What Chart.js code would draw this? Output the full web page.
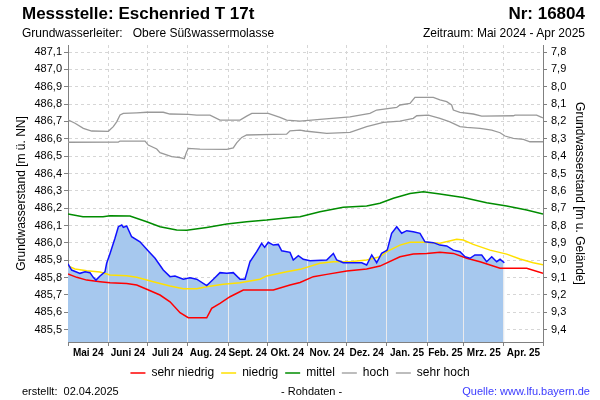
<!DOCTYPE html>
<html><head><meta charset="utf-8">
<script src="https://cdn.jsdelivr.net/npm/chart.js@4/dist/chart.umd.min.js"></script>
<style>
html,body{margin:0;padding:0;background:#fff;}
#wrap{position:relative;width:600px;height:400px;font-family:"Liberation Sans",Arial,sans-serif;color:#000;overflow:hidden;}
#c{position:absolute;left:0;top:0;}
.t{position:absolute;white-space:pre;line-height:1;}
</style></head><body>
<div id="wrap">
<canvas id="c" width="600" height="400"></canvas>
<div class="t" style="left:22px;top:5px;font-size:17px;font-weight:bold;">Messstelle: Eschenried T 17t</div>
<div class="t" style="right:15px;top:5px;font-size:17px;font-weight:bold;">Nr: 16804</div>
<div class="t" style="left:22px;top:27px;font-size:12px;">Grundwasserleiter:   Obere Süßwassermolasse</div>
<div class="t" style="right:15px;top:27px;font-size:12px;">Zeitraum: Mai 2024 - Apr 2025</div>
<div class="t" style="left:22px;top:386px;font-size:11px;">erstellt:  02.04.2025</div>
<div class="t" style="left:281px;top:386px;font-size:11px;">- Rohdaten -</div>
<div class="t" style="right:10px;top:386px;font-size:11px;color:#3b3bff;">Quelle: www.lfu.bayern.de</div>
</div>
<script>
// ---- data (days since 01.05.2024, water level in m ü. NN) ----
const monthStarts = [0, 31, 61, 92, 123, 153, 184, 214, 245, 276, 304, 335, 365];
const monthLabels = ['Mai 24', 'Juni 24', 'Juli 24', 'Aug. 24', 'Sept. 24', 'Okt. 24', 'Nov. 24', 'Dez. 24', 'Jan. 25', 'Feb. 25', 'Mrz. 25', 'Apr. 25'];
const leftTicks = [485.5, 485.6, 485.7, 485.8, 485.9, 486.0, 486.1, 486.2, 486.3, 486.4, 486.5, 486.6, 486.7, 486.8, 486.9, 487.0, 487.1];
const rightTicks = [7.8, 7.9, 8.0, 8.1, 8.2, 8.3, 8.4, 8.5, 8.6, 8.7, 8.8, 8.9, 9.0, 9.1, 9.2, 9.3, 9.4];
const gelaendeHoehe = 494.9;
const levelMin = 485.428, levelMax = 487.141;

const messDays = [0, 2.8, 9.2, 13.1, 16.9, 19.4, 21.5, 24.6, 28.4, 29.7, 32.3, 36.1, 38.7, 41.3, 42.5, 45.1, 48.9, 55.3, 61.7, 66.9, 73.2, 78.4, 82.2, 88.6, 93.7, 98.9, 106.6, 111.7, 116.8, 122, 127, 132.2, 136, 139.8, 145, 148.8, 151.1, 153.9, 157.8, 161.6, 164.2, 170.6, 173.1, 177, 180.8, 186, 198.8, 203.9, 206.5, 211.5, 225.7, 229.5, 233.4, 237.2, 241, 245.3, 248.7, 252.6, 256.4, 260.3, 265.3, 270.5, 274.3, 280.7, 285.8, 291, 296.1, 301.2, 305.1, 308.9, 312.7, 317.9, 321.7, 325.6, 329.4, 332, 335.3];
const messValues = [485.878, 485.843, 485.824, 485.833, 485.828, 485.801, 485.785, 485.809, 485.833, 485.882, 485.939, 486.026, 486.093, 486.103, 486.089, 486.097, 486.035, 486.006, 485.953, 485.911, 485.843, 485.805, 485.809, 485.79, 485.799, 485.79, 485.753, 485.79, 485.828, 485.824, 485.828, 485.79, 485.79, 485.891, 485.949, 485.997, 485.974, 486.003, 485.987, 485.991, 485.954, 485.945, 485.901, 485.926, 485.905, 485.897, 485.901, 485.939, 485.901, 485.885, 485.885, 485.872, 485.93, 485.885, 485.939, 485.958, 486.055, 486.093, 486.055, 486.07, 486.064, 486.055, 486.006, 486.001, 485.987, 485.982, 485.958, 485.949, 485.92, 485.911, 485.93, 485.93, 485.891, 485.92, 485.891, 485.905, 485.885];

const sehrNiedrigDays = [0, 6.7, 14.4, 24.6, 32.3, 45.1, 52.8, 60.5, 70.7, 78.4, 86.1, 92.4, 106.6, 110.4, 116.8, 124.5, 134.7, 157.8, 170.6, 178.3, 188.5, 198.8, 214.2, 229.5, 239.7, 255.1, 265.3, 275.6, 285.8, 296.1, 306.4, 316.6, 332, 352.5, 365];
const sehrNiedrigValues = [485.82, 485.801, 485.785, 485.776, 485.77, 485.766, 485.757, 485.732, 485.699, 485.66, 485.597, 485.568, 485.568, 485.622, 485.651, 485.689, 485.728, 485.728, 485.757, 485.771, 485.805, 485.818, 485.837, 485.849, 485.866, 485.92, 485.935, 485.939, 485.945, 485.939, 485.911, 485.891, 485.853, 485.853, 485.824];

const niedrigDays = [0, 5.4, 14.4, 24.6, 32.3, 45.1, 52.8, 65.5, 78.4, 88.6, 98.9, 106.6, 119.3, 132.2, 147.5, 152.7, 168, 178.3, 193.6, 203.9, 216.7, 229.5, 239.7, 244.9, 255.1, 262.8, 273, 285.8, 298.7, 303.7, 311.4, 324.3, 337.1, 347.3, 357.5, 365];
const niedrigValues = [485.866, 485.849, 485.839, 485.832, 485.814, 485.81, 485.801, 485.776, 485.751, 485.735, 485.735, 485.747, 485.761, 485.77, 485.79, 485.809, 485.833, 485.847, 485.882, 485.891, 485.891, 485.901, 485.92, 485.949, 485.987, 486.003, 486.003, 485.997, 486.02, 486.016, 485.991, 485.958, 485.935, 485.907, 485.885, 485.874];

const mittelDays = [0, 11.5, 26.9, 32.3, 47.6, 60.5, 70.7, 83.5, 91.2, 106.6, 122, 137.3, 152.7, 172.9, 178.3, 193.6, 211.5, 229.5, 239.7, 250, 262.8, 273, 285.8, 303.7, 321.7, 337.1, 352.5, 365];
const mittelValues = [486.166, 486.151, 486.151, 486.156, 486.155, 486.122, 486.093, 486.074, 486.072, 486.089, 486.108, 486.122, 486.131, 486.147, 486.151, 486.179, 486.205, 486.212, 486.228, 486.257, 486.285, 486.295, 486.281, 486.262, 486.231, 486.212, 486.189, 486.166];

const hochDays = [0, 38.7, 40, 59.2, 61.7, 68.2, 70.7, 79.7, 86.1, 89.4, 90.7, 92.4, 101.4, 122, 127, 129.6, 133.5, 137.3, 157.8, 168, 170.6, 178.3, 182.1, 198.8, 216.7, 229.5, 242.3, 255.1, 265.3, 268, 276.9, 285.8, 293.5, 301.2, 306.4, 316.6, 325.6, 332, 335.8, 342.2, 349.9, 355, 365];
const hochValues = [486.58, 486.581, 486.587, 486.587, 486.564, 486.541, 486.52, 486.497, 486.491, 486.485, 486.516, 486.545, 486.541, 486.539, 486.548, 486.577, 486.608, 486.622, 486.626, 486.627, 486.646, 486.65, 486.645, 486.631, 486.637, 486.67, 486.695, 486.702, 486.718, 486.733, 486.737, 486.718, 486.698, 486.67, 486.666, 486.66, 486.65, 486.635, 486.616, 486.603, 486.597, 486.583, 486.583];

const sehrHochDays = [0, 5.4, 11.8, 18.2, 31, 34.8, 37.4, 40, 42.5, 52.8, 60.5, 73.2, 78.4, 92.4, 98.9, 109.1, 116.8, 132.2, 137.3, 141.2, 153.9, 162.9, 168, 178.3, 193.6, 216.7, 232, 237.2, 252.6, 255.1, 262.8, 266.6, 280.7, 285.8, 291, 294.8, 296.1, 301.2, 311.4, 317.9, 342.2, 343.5, 360.1, 364, 365];
const sehrHochValues = [486.71, 486.69, 486.66, 486.645, 486.643, 486.67, 486.698, 486.737, 486.747, 486.75, 486.753, 486.753, 486.743, 486.741, 486.737, 486.737, 486.708, 486.708, 486.731, 486.747, 486.747, 486.724, 486.708, 486.702, 486.712, 486.727, 486.747, 486.766, 486.781, 486.795, 486.804, 486.839, 486.839, 486.824, 486.814, 486.795, 486.766, 486.753, 486.743, 486.731, 486.733, 486.737, 486.737, 486.724, 486.72];

// ---- helpers ----
const pts = (xs, ys) => xs.map((x, i) => ({x: x, y: ys[i]}));
const monthMids = monthStarts.slice(0, -1).map((d, i) => (d + monthStarts[i + 1]) / 2);
const isStart = v => monthStarts.some(d => Math.abs(d - v) < 1e-6);
const midIndex = v => monthMids.findIndex(d => Math.abs(d - v) < 1e-6);
const comma = v => Number(v).toFixed(1).replace('.', ',');
function interp(xs, ys, x) {
  for (let i = 1; i < xs.length; i++) {
    if (x <= xs[i]) { const t = (x - xs[i - 1]) / (xs[i] - xs[i - 1]); return ys[i - 1] + t * (ys[i] - ys[i - 1]); }
  }
  return null;
}
const axisGrey = '#808080';
const gridGrey = '#d6d6d6';
const FONT = '"Liberation Sans", Arial, sans-serif';
Chart.defaults.font.family = FONT;
Chart.defaults.color = '#000';

// light vertical month lines drawn over the filled area
const fillGrid = {
  id: 'fillGrid',
  afterDatasetDraw(chart, args) {
    if (args.index !== 0) return;
    const {ctx, chartArea, scales} = chart;
    const x = scales.x, y = scales.y;
    const last = messDays[messDays.length - 1];
    ctx.save();
    ctx.strokeStyle = 'rgba(236,236,236,0.95)';
    ctx.lineWidth = 1;
    monthStarts.forEach(d => {
      if (d <= 0 || d > last) return;
      const v = interp(messDays, messValues, d);
      const px = Math.round(x.getPixelForValue(d) - 0.5) + 0.5;
      ctx.beginPath();
      ctx.moveTo(px, y.getPixelForValue(v) + 1);
      ctx.lineTo(px, chartArea.bottom);
      ctx.stroke();
    });
    ctx.restore();
  }
};

const lineDs = (label, xs, ys, color, w) => ({
  label: label, data: pts(xs, ys), borderColor: color, backgroundColor: color,
  borderWidth: w, pointRadius: 0, tension: 0, fill: false, order: 5
});

new Chart(document.getElementById('c'), {
  type: 'line',
  data: {
    datasets: [
      {label: 'Messwerte Fläche', data: pts(messDays, messValues), borderColor: 'rgba(0,0,0,0)', borderWidth: 0,
       backgroundColor: '#a6c8ee', fill: 'start', pointRadius: 0, tension: 0, order: 10},
      lineDs('sehr niedrig', sehrNiedrigDays, sehrNiedrigValues, '#ff0000', 1.5),
      lineDs('niedrig', niedrigDays, niedrigValues, '#ffe000', 1.5),
      lineDs('mittel', mittelDays, mittelValues, '#008c00', 1.5),
      lineDs('hoch', hochDays, hochValues, '#999999', 1.3),
      lineDs('sehr hoch', sehrHochDays, sehrHochValues, '#999999', 1.3),
      {label: 'Messwerte', data: pts(messDays, messValues), borderColor: '#1010ff', borderWidth: 1.5,
       pointRadius: 0, tension: 0, fill: false, order: 1}
    ]
  },
  options: {
    responsive: false, animation: false, devicePixelRatio: 1, events: [],
    layout: {padding: {top: 45, left: 0, right: 0, bottom: 11}},
    scales: {
      x: {
        type: 'linear', min: 0, max: 365,
        afterBuildTicks: s => { s.ticks = monthStarts.concat(monthMids).sort((a, b) => a - b).map(v => ({value: v})); },
        afterFit: s => { s.height = 18; },
        ticks: {autoSkip: false, maxRotation: 0, minRotation: 0, padding: 1,
          font: {size: 10, weight: 'bold'}, color: '#000',
          callback: v => { const i = midIndex(v); return i >= 0 ? monthLabels[i] : ''; }},
        grid: {color: c => (c.tick && isStart(c.tick.value)) ? gridGrey : 'rgba(0,0,0,0)',
          tickColor: c => (c.tick && isStart(c.tick.value)) ? axisGrey : 'rgba(0,0,0,0)',
          tickLength: 4, lineWidth: 1},
        border: {color: axisGrey, width: 1, dash: [3, 3]}
      },
      y: {
        type: 'linear', position: 'left', min: levelMin, max: levelMax,
        afterBuildTicks: s => { s.ticks = leftTicks.map(v => ({value: v})); },
        afterFit: s => { s.width = 68; },
        ticks: {padding: 2, font: {size: 11}, color: '#000', callback: v => comma(v)},
        grid: {color: gridGrey, tickColor: axisGrey, tickLength: 4, lineWidth: 1},
        border: {color: axisGrey, width: 1, dash: [3, 3]},
        title: {display: true, text: 'Grundwasserstand [m ü. NN]', font: {size: 12}, color: '#000', padding: {top: 14, bottom: 0}}
      },
      y2: {
        type: 'linear', position: 'right', reverse: true,
        min: gelaendeHoehe - levelMax, max: gelaendeHoehe - levelMin,
        afterBuildTicks: s => { s.ticks = rightTicks.map(v => ({value: v})); },
        afterFit: s => { s.width = 57; },
        ticks: {padding: 4, font: {size: 11}, color: '#000', callback: v => comma(v)},
        grid: {drawOnChartArea: false, tickColor: axisGrey, tickLength: 4},
        border: {color: axisGrey, width: 1},
        title: {display: true, text: 'Grundwasserstand [m u. Gelände]', font: {size: 12}, color: '#000', padding: {top: 13, bottom: 0}}
      }
    },
    plugins: {
      tooltip: {enabled: false},
      title: {display: false},
      legend: {
        position: 'bottom',
        labels: {
          usePointStyle: true, pointStyle: 'line', pointStyleWidth: 15, padding: 7,
          font: {size: 12}, color: '#000',
          filter: item => item.datasetIndex >= 1 && item.datasetIndex <= 5
        }
      }
    }
  },
  plugins: [fillGrid]
});
</script>
</body></html>
